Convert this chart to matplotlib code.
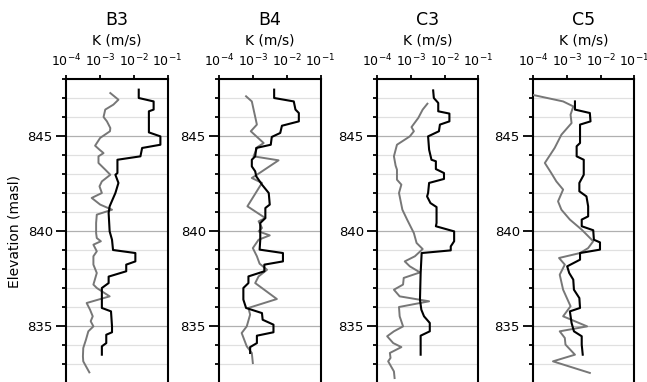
import numpy as np
import matplotlib
matplotlib.use("Agg")
import matplotlib.pyplot as plt
from matplotlib.ticker import FixedLocator, NullLocator

wells = ["B3", "B4", "C3", "C5"]

# black profiles: elevation (masl) and log10 K (m/s)
b3_z1 = [847.44, 847.0, 846.82, 846.39, 846.3, 845.19, 844.98, 844.54, 844.37, 843.93, 843.75,
         843.05, 842.96, 842.53, 842.0, 841.3, 840.95, 839.98, 839.54, 839.0, 838.84, 838.4,
         838.23, 837.88, 837.6, 837.26, 837.0, 835.95, 835.77, 834.98, 834.67, 834.54, 834.1,
         833.93, 833.49]
b3_k1 = [-1.85, -1.85, -1.41, -1.41, -1.55, -1.55, -1.21, -1.21, -1.75, -1.8, -2.48,
         -2.48, -2.54, -2.45, -2.54, -2.71, -2.74, -2.71, -2.64, -2.61, -1.95, -1.95,
         -2.22, -2.22, -2.74, -2.74, -2.94, -2.94, -2.67, -2.64, -2.64, -2.81, -2.81,
         -2.94, -2.94]
b3_z2 = [847.26, 846.91, 846.65, 846.39, 846.0, 845.77, 845.42, 845.25, 844.9, 844.49, 844.28,
         844.1, 843.93, 843.58, 843.23, 842.96, 842.61, 842.35, 842.0, 841.74, 841.39, 841.12,
         840.86, 840.42, 839.89, 839.63, 839.46, 839.28, 838.93, 838.67, 838.23, 837.79,
         837.18, 837.0, 836.56, 836.21, 835.86, 835.51, 835.25, 834.98, 834.72, 834.28,
         833.84, 833.4, 833.14, 832.88, 832.56]
b3_k2 = [-2.69, -2.45, -2.6, -2.84, -2.89, -2.79, -2.69, -2.7, -2.99, -3.14, -3.01,
         -2.89, -3.04, -3.04, -2.84, -2.69, -2.94, -3.01, -2.94, -3.24, -2.99, -2.64,
         -3.09, -3.11, -3.11, -3.09, -2.97, -3.19, -3.09, -3.19, -3.19, -3.09,
         -3.19, -3.09, -2.71, -3.39, -3.29, -3.21, -3.27, -3.19, -3.34, -3.41,
         -3.49, -3.5, -3.49, -3.41, -3.31]

b4_z1 = [847.44, 847.0, 846.82, 846.39, 846.21, 845.77, 845.54, 845.16, 844.95, 844.54, 844.37,
         843.93, 843.75, 843.4, 843.14, 842.88, 842.44, 842.0, 841.39, 841.21, 840.68, 840.42,
         839.54, 839.02, 838.84, 838.4, 838.23, 837.88, 837.61, 837.26, 837.0, 836.39, 835.95,
         835.68, 835.33, 835.07, 834.67, 834.49, 834.1, 833.89, 833.58]
b4_k1 = [-2.37, -2.37, -1.79, -1.74, -1.64, -1.64, -2.14, -2.19, -2.44, -2.47, -2.9,
         -2.93, -3.03, -3.03, -2.93, -2.9, -2.73, -2.53, -2.5, -2.63, -2.63, -2.78,
         -2.78, -2.8, -2.11, -2.11, -2.66, -2.66, -3.13, -3.13, -3.28, -3.28, -3.2,
         -2.73, -2.71, -2.39, -2.39, -2.88, -2.88, -3.08, -3.08]
b4_z2 = [847.09, 846.82, 845.6, 845.25, 844.63, 844.42, 843.93, 843.72, 842.96, 842.79, 842.53,
         841.3, 840.68, 840.51, 840.16, 839.98, 839.77, 839.54, 839.1, 838.67, 838.28, 837.96,
         837.61, 837.26, 836.42, 835.95, 835.6, 834.98, 834.63, 833.93, 833.58, 833.05]
b4_k2 = [-3.2, -3.03, -2.88, -3.06, -2.68, -2.86, -2.98, -2.24, -2.88, -3.03, -2.73,
         -3.16, -2.63, -2.83, -2.73, -2.83, -2.5, -2.83, -3.0, -2.88, -2.8, -2.58,
         -2.83, -2.93, -2.29, -3.13, -3.08, -3.18, -3.33, -3.18, -3.03, -3.0]

c3_z1 = [847.4, 847.0, 846.74, 846.3, 846.18, 845.77, 845.6, 845.25, 844.98, 844.28, 843.75,
         843.67, 843.26, 843.05, 842.74, 842.53, 842.0, 841.82, 841.47, 841.26, 840.42, 840.25,
         839.98, 839.46, 839.19, 838.98, 838.84, 837.79, 836.39, 835.86, 835.51, 835.16,
         834.72, 834.49, 833.49]
c3_k1 = [-2.34, -2.32, -2.19, -2.19, -1.86, -1.86, -2.14, -2.17, -2.49, -2.46, -2.39,
         -2.26, -2.26, -2.02, -2.02, -2.46, -2.49, -2.52, -2.42, -2.24, -2.24, -2.26,
         -1.72, -1.72, -1.82, -1.82, -2.68, -2.71, -2.73, -2.69, -2.61, -2.44,
         -2.44, -2.71, -2.71]
c3_z2 = [846.7, 846.39, 845.95, 845.47, 845.25, 844.98, 844.54, 843.93, 843.44, 843.23, 842.7,
         842.44, 842.0, 841.12, 840.6, 839.89, 839.37, 839.05, 838.67, 838.4, 838.14, 837.82,
         837.53, 837.18, 836.91, 836.56, 836.3, 836.0, 835.51, 834.98, 834.72, 834.46, 834.1,
         833.89, 833.58, 833.32, 833.14, 832.61, 832.26]
c3_k2 = [-2.51, -2.65, -2.78, -2.98, -2.91, -3.03, -3.41, -3.5, -3.45, -3.41, -3.41,
         -3.28, -3.35, -3.25, -3.11, -2.91, -2.83, -2.65, -2.88, -3.18, -3.03, -2.73,
         -3.21, -3.23, -3.5, -3.33, -2.46, -3.35, -3.33, -3.23, -3.5, -3.7, -3.52,
         -3.28, -3.62, -3.6, -3.67, -3.5, -3.48]

c5_z1 = [846.82, 846.39, 846.21, 845.77, 845.6, 844.63, 844.46, 843.93, 843.75, 842.96, 842.53,
         842.09, 841.82, 841.3, 840.77, 840.6, 840.25, 840.04, 839.54, 839.4, 839.02, 838.84,
         838.49, 838.14, 837.79, 837.44, 836.91, 836.47, 835.95, 835.77, 835.16, 834.72,
         834.46, 834.02, 833.49]
c5_k1 = [-2.76, -2.76, -2.32, -2.3, -2.61, -2.61, -2.71, -2.71, -2.5, -2.5, -2.63,
         -2.63, -2.42, -2.37, -2.37, -2.56, -2.56, -2.22, -2.2, -2.02, -2.02, -2.61,
         -2.61, -2.99, -2.93, -2.81, -2.79, -2.63, -2.61, -2.91, -2.86, -2.79,
         -2.56, -2.56, -2.53]
c5_z2 = [847.18, 846.82, 846.56, 846.12, 845.68, 845.07, 844.37, 843.58, 843.05, 842.61, 842.18,
         841.56, 841.12, 840.6, 840.07, 839.46, 839.1, 838.84, 838.58, 838.23, 837.7, 836.91,
         836.04, 835.51, 834.98, 834.72, 834.37, 834.02, 833.49, 833.14, 832.53]
c5_k2 = [-4.05, -3.11, -2.81, -2.89, -2.86, -3.16, -3.36, -3.65, -3.46, -3.31, -3.11,
         -3.26, -3.16, -2.91, -2.56, -2.22, -2.37, -2.61, -3.23, -3.06, -3.21, -3.11,
         -2.89, -3.11, -2.4, -3.21, -3.06, -3.04, -2.76, -3.41, -2.32]

profiles = [
    (b3_z1, b3_k1, b3_z2, b3_k2),
    (b4_z1, b4_k1, b4_z2, b4_k2),
    (c3_z1, c3_k1, c3_z2, c3_k2),
    (c5_z1, c5_k1, c5_z2, c5_k2),
]

W, H = 647, 382
fig = plt.figure(figsize=(W / 100, H / 100), dpi=100)

lefts = [66, 219, 377, 533]
ax_w = 101.5
ax_top = 79
ax_h = 16 * 19

for i, (name, (z1, k1, z2, k2)) in enumerate(zip(wells, profiles)):
    ax = fig.add_axes([lefts[i] / W, 1 - (ax_top + ax_h) / H, ax_w / W, ax_h / H])
    ax.set_xscale("log")
    ax.set_xlim(1e-4, 1e-1)
    ax.set_ylim(832, 848)

    ax.plot(10 ** np.array(k2), z2, color="#777777", lw=1.4, zorder=3)
    ax.plot(10 ** np.array(k1), z1, color="black", lw=1.5, zorder=4)

    ax.xaxis.set_major_locator(FixedLocator([1e-4, 1e-3, 1e-2, 1e-1]))
    ax.xaxis.set_minor_locator(NullLocator())
    ax.xaxis.tick_top()
    ax.xaxis.set_label_position("top")
    ax.set_xlabel("K (m/s)", fontsize=10, labelpad=6)
    ax.set_title(name, fontsize=12.5, pad=6)

    ax.yaxis.set_major_locator(FixedLocator([835, 840, 845]))
    ax.yaxis.set_minor_locator(FixedLocator([z for z in range(833, 849) if z % 5 != 0]))
    ax.grid(which="major", axis="y", color="#b0b0b0", lw=0.9)
    ax.grid(which="minor", axis="y", color="#e0e0e0", lw=0.9)
    ax.tick_params(axis="x", direction="out", length=3, width=1.3, labelsize=9, pad=4)
    ax.tick_params(axis="y", which="major", direction="out", length=7.5, width=1.3,
                   labelsize=9.5, pad=2)
    ax.tick_params(axis="y", which="minor", direction="out", length=3, width=1.3)

    for s in ax.spines.values():
        s.set_linewidth(1.5)

    if i == 0:
        ax.set_ylabel("Elevation (masl)", fontsize=10, labelpad=4)

fig.savefig("out.png", dpi=100)
